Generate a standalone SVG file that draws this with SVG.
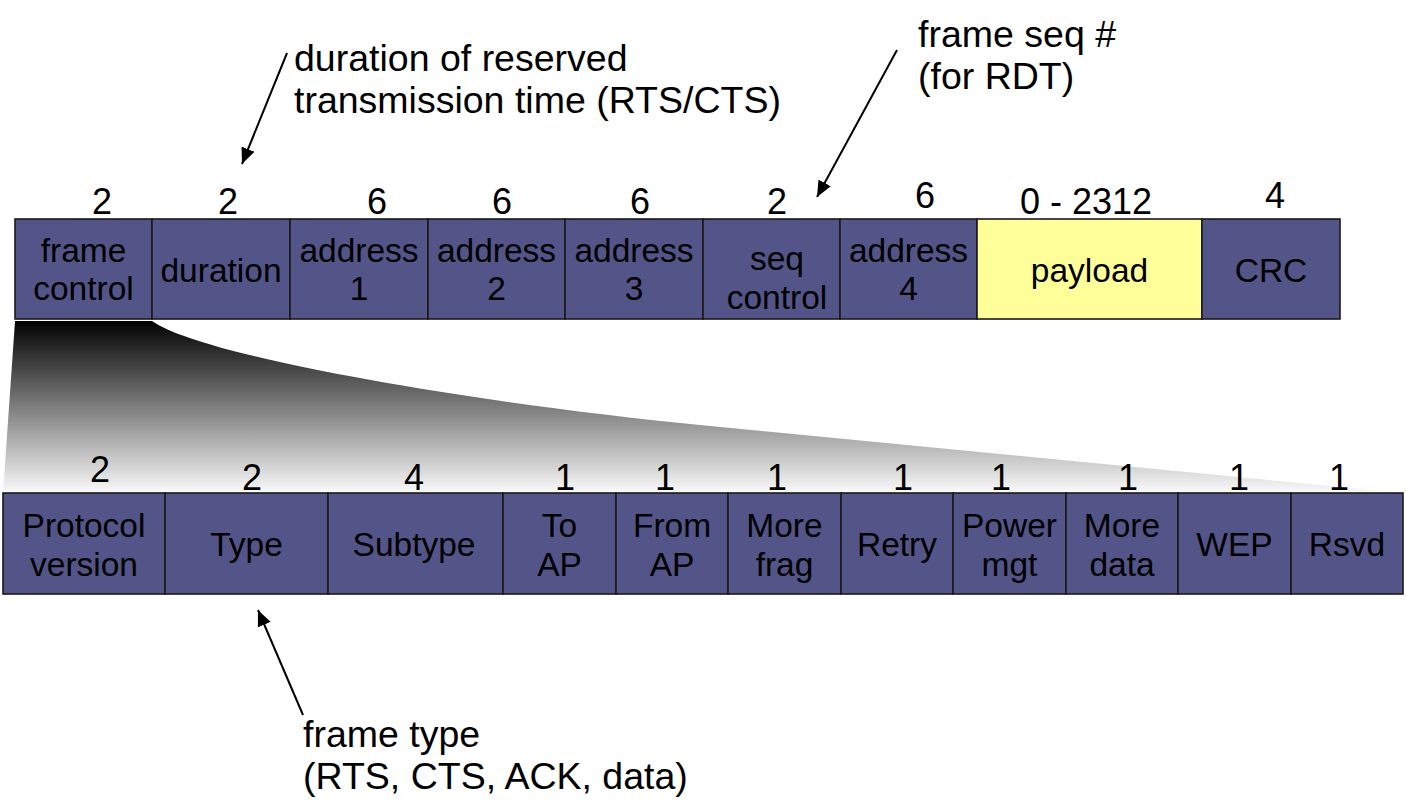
<svg xmlns="http://www.w3.org/2000/svg" width="1406" height="810" viewBox="0 0 1406 810">
<defs>
<linearGradient id="fade" gradientUnits="userSpaceOnUse" x1="0" y1="320" x2="0" y2="493">
<stop offset="0" stop-color="#000000"/>
<stop offset="1" stop-color="#fafafa"/>
</linearGradient>
<marker id="ah" markerUnits="userSpaceOnUse" markerWidth="20" markerHeight="16" refX="16" refY="7" orient="auto">
<path d="M0,0 L16,7 L0,14 Z" fill="#000"/>
</marker>
<style>
.box{fill:#535488;stroke:#1a1a1a;stroke-width:1.6}
.pay{fill:#ffff99;stroke:#1a1a1a;stroke-width:1.6}
.t{font-family:"Liberation Sans",Arial,sans-serif;font-size:33.5px;fill:#000;text-anchor:middle}
.n{font-family:"Liberation Sans",Arial,sans-serif;font-size:36px;fill:#000;text-anchor:middle}
.a{font-family:"Liberation Sans",Arial,sans-serif;font-size:37.5px;fill:#000}
.c{stroke:#000;stroke-width:2;fill:none;marker-end:url(#ah)}
</style>
</defs>
<rect width="1406" height="810" fill="#fff"/>

<g id="zoom-fan">
<path d="M15,321 L152,321 C200,355 450,400 700,425 L1403,493 L3,493 Z" fill="url(#fade)"/>
</g>

<g id="frame-control"><rect class="box" x="15" y="219" width="137" height="100"/><text class="t" x="83.5" y="262">frame</text><text class="t" x="83.5" y="300">control</text><text class="n" x="102" y="214">2</text></g>
<g id="duration"><rect class="box" x="152" y="219" width="138" height="100"/><text class="t" x="221" y="282">duration</text><text class="n" x="228" y="214">2</text></g>
<g id="address1"><rect class="box" x="290" y="219" width="138" height="100"/><text class="t" x="359" y="262">address</text><text class="t" x="359" y="300">1</text><text class="n" x="377" y="214">6</text></g>
<g id="address2"><rect class="box" x="428" y="219" width="137" height="100"/><text class="t" x="496.5" y="262">address</text><text class="t" x="496.5" y="300">2</text><text class="n" x="502" y="214">6</text></g>
<g id="address3"><rect class="box" x="565" y="219" width="138" height="100"/><text class="t" x="634" y="262">address</text><text class="t" x="634" y="300">3</text><text class="n" x="640" y="214">6</text></g>
<g id="seq-control"><rect class="box" x="703" y="219" width="137" height="100"/><text class="t" x="777" y="270">seq</text><text class="t" x="777" y="309">control</text><text class="n" x="777" y="214">2</text></g>
<g id="address4"><rect class="box" x="840" y="219" width="137" height="100"/><text class="t" x="908.5" y="262">address</text><text class="t" x="908.5" y="300">4</text><text class="n" x="925" y="208">6</text></g>
<g id="payload"><rect class="pay" x="977" y="219" width="225" height="100"/><text class="t" x="1089.5" y="282">payload</text><text class="n" x="1086" y="214">0 - 2312</text></g>
<g id="crc"><rect class="box" x="1202" y="219" width="138" height="100"/><text class="t" x="1271" y="282">CRC</text><text class="n" x="1275" y="208">4</text></g>

<g id="protocol-version"><rect class="box" x="3" y="493" width="162" height="101"/><text class="t" x="84" y="537">Protocol</text><text class="t" x="84" y="576">version</text><text class="n" x="100" y="482">2</text></g>
<g id="type"><rect class="box" x="165" y="493" width="163" height="101"/><text class="t" x="246.5" y="556">Type</text><text class="n" x="252" y="490">2</text></g>
<g id="subtype"><rect class="box" x="328" y="493" width="175" height="101"/><text class="t" x="414" y="556">Subtype</text><text class="n" x="414" y="490">4</text></g>
<g id="to-ap"><rect class="box" x="503" y="493" width="113" height="101"/><text class="t" x="559.5" y="537">To</text><text class="t" x="559.5" y="576">AP</text><text class="n" x="565" y="490">1</text></g>
<g id="from-ap"><rect class="box" x="616" y="493" width="112" height="101"/><text class="t" x="672" y="537">From</text><text class="t" x="672" y="576">AP</text><text class="n" x="665" y="490">1</text></g>
<g id="more-frag"><rect class="box" x="728" y="493" width="113" height="101"/><text class="t" x="784.5" y="537">More</text><text class="t" x="784.5" y="576">frag</text><text class="n" x="777" y="490">1</text></g>
<g id="retry"><rect class="box" x="841" y="493" width="112" height="101"/><text class="t" x="897" y="556">Retry</text><text class="n" x="903" y="490">1</text></g>
<g id="power-mgt"><rect class="box" x="953" y="493" width="113" height="101"/><text class="t" x="1009.5" y="537">Power</text><text class="t" x="1009.5" y="576">mgt</text><text class="n" x="1001" y="490">1</text></g>
<g id="more-data"><rect class="box" x="1066" y="493" width="112" height="101"/><text class="t" x="1122" y="537">More</text><text class="t" x="1122" y="576">data</text><text class="n" x="1128" y="490">1</text></g>
<g id="wep"><rect class="box" x="1178" y="493" width="113" height="101"/><text class="t" x="1234.5" y="556">WEP</text><text class="n" x="1239" y="490">1</text></g>
<g id="rsvd"><rect class="box" x="1291" y="493" width="112" height="101"/><text class="t" x="1347" y="556">Rsvd</text><text class="n" x="1339" y="490">1</text></g>

<g id="note-duration"><text class="a" x="294" y="71">duration of reserved</text><text class="a" x="294" y="113">transmission time (RTS/CTS)</text></g>
<g id="note-seq"><text class="a" x="918" y="47">frame seq #</text><text class="a" x="918" y="89">(for RDT)</text></g>
<g id="note-type"><text class="a" x="303" y="747">frame type</text><text class="a" x="303" y="789">(RTS, CTS, ACK, data)</text></g>

<g id="connectors">
<line class="c" x1="287" y1="53" x2="242" y2="164"/>
<line class="c" x1="897" y1="50" x2="817" y2="197"/>
<line class="c" x1="303" y1="715" x2="258" y2="610"/>
</g>
</svg>
